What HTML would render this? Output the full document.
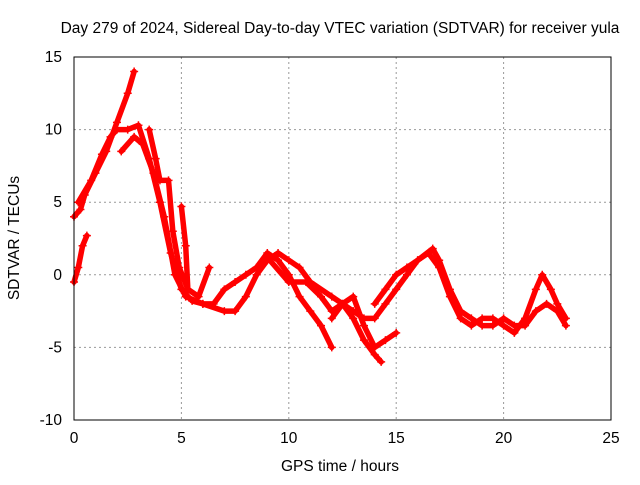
<!DOCTYPE html>
<html><head><meta charset="utf-8"><style>
body{margin:0;background:#fff}
svg{font-family:"Liberation Sans",sans-serif;font-size:15.5px}
</style></head><body>
<svg id="chart" width="640" height="480">
<rect width="640" height="480" fill="#fff"/>
<text x="340" y="33" text-anchor="middle">Day 279 of 2024, Sidereal Day-to-day VTEC variation (SDTVAR) for receiver yula</text>
<text x="340" y="471" text-anchor="middle">GPS time / hours</text>
<text transform="translate(19,238) rotate(-90)" text-anchor="middle">SDTVAR / TECUs</text>
<g id="grid"></g><g id="ticks"></g><g id="series"></g>
<rect x="74" y="57" width="537" height="363" fill="none" stroke="#000"/>
</svg>
<script>
const xTicks=[0,5,10,15,20,25];
const yTicks=[-10,-5,0,5,10,15];
const trackA=[[0,-0.5],[0.2,0.5],[0.4,2],[0.6,2.7]];
const trackB=[[0,4],[0.3,4.5],[0.5,5.5],[1,7],[1.5,8.5],[2,10.5],[2.5,12.5],[2.8,14]];
const trackC=[[0.2,5],[0.8,6.5],[1.3,8.3],[1.7,9.5],[2,10],[2.5,10],[3,10.3],[3.5,8],[4,5],[4.5,1.5],[5,-1],[5.5,-1.8],[6,-2],[6.5,-2],[7,-1],[7.5,-0.5],[8,0],[8.5,0.5],[9,1.5],[9.5,1],[10,0],[10.5,-1.5],[11,-2.5],[11.5,-3.5],[12,-5]];
const trackD=[[2.2,8.5],[2.8,9.5],[3.2,9],[3.7,7],[4.2,4],[4.7,0],[5.2,-1.5],[6,-2],[7,-2.5],[7.5,-2.5],[8,-1.5],[8.5,0],[9,1],[9.5,1.5],[10,1],[10.5,0.5],[11,-0.5],[12,-1.5],[12.5,-2],[13,-3],[13.5,-4.5],[14,-5.5],[14.3,-6]];
const trackE=[[3.5,10],[3.8,8],[4,6.5],[4.4,6.5],[4.6,3],[4.9,0.5],[5.3,-1],[5.8,-1.5],[6.3,0.5]];
const trackF=[[9,1.2],[10,-0.5],[10.8,-0.5],[11.5,-1.5],[12,-2.5],[12.5,-2],[13,-2.5],[13.5,-3],[14,-3],[14.5,-2],[15,-1],[15.5,0],[16,1],[16.5,1.5],[17,0.5],[17.5,-1.5],[18,-3],[18.5,-3.5],[19,-3],[19.5,-3],[20,-3.5],[20.5,-4],[21,-3],[21.5,-1],[21.8,0],[22.2,-1],[22.5,-2],[22.9,-3]];
const trackG=[[12,-3],[12.5,-2],[13,-1.5],[13.5,-3.5],[14,-5],[14.5,-4.5],[15,-4]];
const trackH=[[14,-2],[14.5,-1],[15,0],[15.5,0.5],[16,1],[16.7,1.8],[17,1],[17.5,-1],[18,-2.5],[18.5,-3],[19,-3.5],[19.5,-3.5],[20,-3],[20.5,-3.5],[21,-3.5],[21.5,-2.5],[22,-2],[22.5,-2.5],[22.9,-3.5]];
const trackI=[[5,4.7],[5.2,2],[5.3,-1]];
const tracks=[trackA,trackB,trackC,trackD,trackE,trackF,trackG,trackH,trackI];
const X=v=>74+(v-0)/25*537, Y=v=>420-(v+10)/25*363;
const NS="http://www.w3.org/2000/svg";
const g=document.getElementById('grid'),t=document.getElementById('ticks'),s=document.getElementById('series');
function mk(tag,at,par){const e=document.createElementNS(NS,tag);for(const k in at)e.setAttribute(k,at[k]);par.appendChild(e);return e;}
xTicks.forEach(v=>{
 if(v>0&&v<25){const l=mk('line',{x1:X(v),x2:X(v),y1:57,y2:420,stroke:'#999','stroke-dasharray':'2,3'},g);
 
 }
 const tx=mk('text',{x:X(v),y:443,'text-anchor':'middle'},t);tx.textContent=v;
 
 
});
yTicks.forEach(v=>{
 if(v>-10&&v<15){const l=mk('line',{x1:74,x2:611,y1:Y(v),y2:Y(v),stroke:'#999','stroke-dasharray':'2,3'},g);
 
 }
 const tx=mk('text',{x:62,y:Y(v)+5,'text-anchor':'end'},t);tx.textContent=v;
 
 
});
tracks.forEach(tr=>{
 const p=mk('polyline',{points:tr.map(d=>X(d[0])+','+Y(d[1])).join(' '),fill:'none',stroke:'#f00','stroke-width':5.5,'stroke-linejoin':'round','stroke-linecap':'round'},s);
 
 
 tr.forEach(d=>{
  const m=mk('path',{d:`M${X(d[0])-4},${Y(d[1])}h8M${X(d[0])},${Y(d[1])-4}v8`,stroke:'#f00','stroke-width':1.5},s);
  
  
 });
});
</script>
</body></html>
